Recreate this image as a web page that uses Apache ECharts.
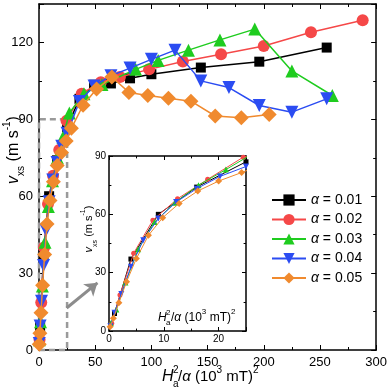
<!DOCTYPE html>
<html lang="en">
  <head>
    <meta charset="UTF-8" />
    <title>vxs vs Ha^2/alpha</title>
    <script src="https://cdn.jsdelivr.net/npm/echarts@6/dist/echarts.min.js"></script>
  </head>
  <body style="margin: 0">
    <div id="main" style="width: 390px; height: 390px"></div>
    <script type="text/javascript">
      // damping values shown in the legend
      const alphas = ["0.01", "0.02", "0.03", "0.04", "0.05"];

      // x = Ha^2/alpha (10^3 mT)^2, v = vxs (m/s)
      const x001 = [1, 4, 9, 16, 25, 36, 49, 64, 81, 100, 144, 196, 256];
      const v001 = [9, 37, 60, 74, 87, 98, 103.5, 104, 106, 107.6, 110.2, 112.5, 118];

      const x002 = [0.5, 2, 4.5, 8, 12.5, 18, 24.5, 38, 55, 72, 98, 128, 162, 200, 242, 288];
      const v002 = [4, 18.5, 40, 57, 68, 78, 89.4, 100, 104.5, 106.5, 109.5, 112.6, 115.4, 118.6, 124, 128.7];

      const x003 = [0.33, 1.33, 3, 5.33, 8.33, 12, 16.33, 21.33, 27, 40, 56, 86, 106, 133, 161, 192, 225, 261];
      const v003 = [4, 11, 25, 42, 56, 66, 75, 83, 92.5, 100, 103.6, 109.5, 113, 117, 121, 125.2, 108.9, 99.3];

      const x004 = [0.25, 1, 2.25, 4, 6.25, 9, 12.25, 16, 20.25, 25, 36, 49, 64, 81, 100, 121, 144, 169, 196, 225, 256];
      const v004 = [2.5, 9.4, 19, 33, 46.7, 57.8, 66.3, 73.2, 79.5, 84.6, 97, 103, 107, 110, 113.4, 117, 105, 102.4, 95.4, 92.8, 98];

      const x005 = [0.2, 0.8, 1.8, 3.2, 5, 7.2, 9.8, 12.8, 16.2, 20, 24.2, 28.8, 39.2, 51.2, 64.8, 80, 96.8, 115.2, 135.2, 156.8, 180, 204.8];
      const v005 = [2.2, 6.5, 14.5, 25.3, 37.3, 49.2, 58.3, 65.6, 72, 77.1, 81.5, 86.5, 95.5, 101.8, 106.5, 100.5, 99.3, 98.2, 97.1, 91.3, 90.6, 91.9];

      const xs = [x001, x002, x003, x004, x005];
      const vs = [v001, v002, v003, v004, v005];

      // tick labels
      const mainXTicks = [0, 50, 100, 150, 200, 250, 300];
      const mainYTicks = [0, 30, 60, 90, 120];
      const insetXTicks = [0, 10, 20];
      const insetYTicks = [0, 30, 60, 90];

      const F = "Liberation Sans";
      const looks = [
        { color: "#000000", symbol: "rect", size: 10, small: 5, rot: 0 },
        { color: "#f54848", symbol: "circle", size: 12, small: 5, rot: 0 },
        { color: "#1fcc1f", symbol: "triangle", size: 13, small: 6, rot: 0 },
        { color: "#2b4cf2", symbol: "triangle", size: 13, small: 6, rot: 180 },
        { color: "#f08a2e", symbol: "diamond", size: 15, small: 7, rot: 0 },
      ];

      let myChart = echarts.init(document.getElementById("main"));

      // one side of a frame: a major axis (line, ticks, labels) and a minor axis (short ticks)
      function sideAxes(grid, pos, max, major, minor, tickLen, labels, fontSize) {
        const base = { gridIndex: grid, type: "value", position: pos, min: 0, max: max, splitLine: { show: false } };
        return [
          Object.assign({}, base, {
            interval: major,
            axisLine: { show: true, onZero: false, lineStyle: { color: "#000", width: 1.5 } },
            axisTick: { show: true, inside: true, length: tickLen, lineStyle: { color: "#000", width: 1 } },
            axisLabel: labels
              ? {
                  show: true,
                  color: "#000",
                  fontFamily: F,
                  fontSize: fontSize,
                  margin: fontSize > 11 ? 6 : 3,
                  formatter: (v) => (labels.indexOf(v) >= 0 ? String(v) : ""),
                }
              : { show: false },
          }),
          Object.assign({}, base, {
            interval: minor,
            axisLine: { show: false, onZero: false },
            axisTick: { show: true, inside: true, length: tickLen * 0.6, lineStyle: { color: "#000", width: 1 } },
            axisLabel: { show: false },
          }),
        ];
      }

      const xAxes = [].concat(
        sideAxes(0, "bottom", 300, 50, 25, 5, mainXTicks, 13),
        sideAxes(0, "top", 300, 50, 25, 5, null),
        sideAxes(1, "bottom", 25, 10, 5, 4, insetXTicks, 10),
        sideAxes(1, "top", 25, 10, 5, 4, null)
      );
      const yAxes = [].concat(
        sideAxes(0, "left", 135, 30, 15, 5, mainYTicks, 13),
        sideAxes(0, "right", 135, 30, 15, 5, null),
        sideAxes(1, "left", 90, 30, 15, 4, insetYTicks, 10),
        sideAxes(1, "right", 90, 30, 15, 4, null)
      );

      let series = [];
      looks.forEach((lk, i) => {
        const pts = xs[i].map((x, j) => [x, vs[i][j]]);
        series.push({
          name: "α = " + alphas[i],
          type: "line",
          xAxisIndex: 0,
          yAxisIndex: 0,
          data: pts,
          symbol: lk.symbol,
          symbolSize: lk.size,
          symbolRotate: lk.rot,
          lineStyle: { color: lk.color, width: 1.5 },
          itemStyle: { color: lk.color },
          z: 3 + i,
        });
        series.push({
          name: "inset " + alphas[i],
          type: "line",
          xAxisIndex: 4,
          yAxisIndex: 4,
          data: pts,
          clip: true,
          symbol: lk.symbol,
          symbolSize: lk.small,
          symbolRotate: lk.rot,
          lineStyle: { color: lk.color, width: 1 },
          itemStyle: { color: lk.color },
          z: 3 + i,
        });
      });

      // zoom box and arrow pointing to the inset
      series[0].markArea = {
        silent: true,
        itemStyle: { color: "rgba(0,0,0,0)", borderColor: "#9a9a9a", borderWidth: 2.5, borderType: [6, 4] },
        data: [[{ coord: [0, 0] }, { coord: [25, 90] }]],
      };
      series[0].markLine = {
        silent: true,
        symbol: ["none", "arrow"],
        symbolSize: 12,
        label: { show: false },
        lineStyle: { color: "#8c8c8c", width: 3, type: "solid" },
        data: [[{ coord: [24.6, 16.4] }, { coord: [52, 26.2] }]],
      };

      function rich(size) {
        const s = Math.round(size * 0.65);
        return {
          n: { fontFamily: F, fontSize: size, lineHeight: size + 8 },
          i: { fontFamily: F, fontSize: size, fontStyle: "italic", lineHeight: size + 8 },
          p: { fontFamily: F, fontSize: s, lineHeight: s, verticalAlign: "top" },
          b: { fontFamily: F, fontSize: s, lineHeight: s, verticalAlign: "bottom" },
        };
      }
      function txt(x, y, text, size, rot, align) {
        return {
          type: "text",
          x: x,
          y: y,
          rotation: rot || 0,
          silent: true,
          z: 100,
          style: { text: text, rich: rich(size), fill: "#000", textAlign: align || "left", textVerticalAlign: "middle" },
        };
      }

      const graphics = [
        // main x title
        txt(162, 377, "{i|H}", 16),
        txt(173, 370, "{n|2}", 10),
        txt(173, 384, "{n|a}", 10),
        txt(178, 377, "{n|/}{i|α}{n| (10}{p|3}{n| mT)}{p|2}", 15),
        // main y title
        txt(14, 150, "{i|v}{b|xs}{n| (m s}{p|-1}{n|)}", 16, Math.PI / 2, "center"),
        // inset x title
        txt(158, 318, "{i|H}", 12),
        txt(166, 313, "{n|2}", 8),
        txt(166, 323, "{n|a}", 8),
        txt(171, 318, "{n|/}{i|α}{n| (10}{p|3}{n| mT)}{p|2}", 12),
        // inset y title
        txt(89, 229, "{i|v}{b|xs}{n| (m s}{p|-1}{n|)}", 11, Math.PI / 2, "center"),
      ];

      let options = {
        animation: false,
        backgroundColor: "#fff",
        grid: [
          { left: 39, right: 11, top: 4, bottom: 40 },
          { left: 109, right: 144, top: 156, bottom: 59 },
        ],
        xAxis: xAxes,
        yAxis: yAxes,
        legend: {
          data: alphas.map((a) => "α = " + a),
          orient: "vertical",
          left: 266,
          top: 187,
          itemWidth: 34,
          itemHeight: 14,
          itemGap: 3.5,
          formatter: (name) => "{i|α}" + name.slice(1),
          textStyle: {
            color: "#000",
            fontFamily: F,
            fontSize: 14,
            lineHeight: 16,
            rich: { i: { fontFamily: F, fontSize: 14, fontStyle: "italic", lineHeight: 16 } },
          },
        },
        series: series,
        graphic: { elements: graphics },
      };

      myChart.setOption(options);
    </script>
  </body>
</html>
